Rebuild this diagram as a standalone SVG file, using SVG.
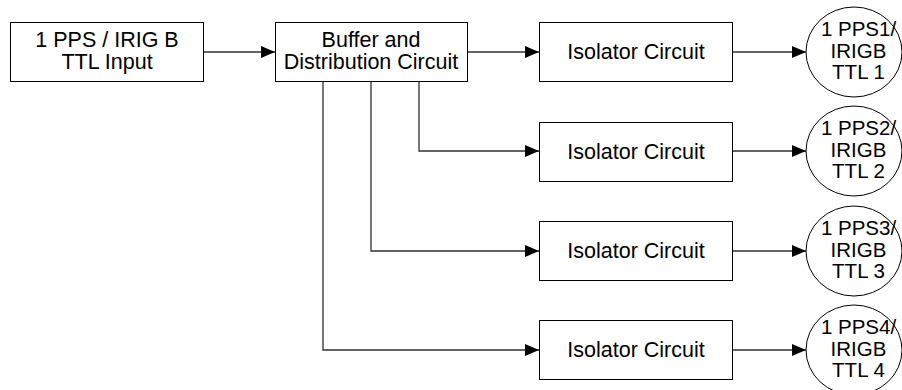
<svg xmlns="http://www.w3.org/2000/svg" width="902" height="390" viewBox="0 0 902 390">
  <style>
    .box { fill: #ffffff; stroke: #000000; stroke-width: 1; }
    .term { fill: #ffffff; stroke: #000000; stroke-width: 1; }
    .lbl { font-family: "Liberation Sans", Arial, sans-serif; font-size: 21.5px; fill: #000000; text-anchor: middle; }
    .term-lbl { font-family: "Liberation Sans", Arial, sans-serif; font-size: 20.5px; fill: #000000; text-anchor: middle; }
    .wire { fill: none; stroke: #303030; stroke-width: 1.3; }
  </style>
  <defs>
    <marker id="arrow" markerUnits="userSpaceOnUse" markerWidth="15" markerHeight="13" refX="14" refY="6" orient="auto">
      <path d="M0,0 L14,6 L0,12 Z" fill="#000000"/>
    </marker>
  </defs>
  <rect width="902" height="390" fill="#ffffff"/>

  <!-- connectors -->
  <g id="connectors">
    <line class="wire" x1="203" y1="52" x2="275" y2="52" marker-end="url(#arrow)"/>
    <line class="wire" x1="467" y1="52" x2="539" y2="52" marker-end="url(#arrow)"/>
    <polyline class="wire" points="419,81 419,151 539,151" marker-end="url(#arrow)"/>
    <polyline class="wire" points="371,81 371,251 539,251" marker-end="url(#arrow)"/>
    <polyline class="wire" points="323,81 323,350 539,350" marker-end="url(#arrow)"/>
    <line class="wire" x1="732" y1="52" x2="806" y2="52" marker-end="url(#arrow)"/>
    <line class="wire" x1="732" y1="151" x2="806" y2="151" marker-end="url(#arrow)"/>
    <line class="wire" x1="732" y1="251" x2="806" y2="251" marker-end="url(#arrow)"/>
    <line class="wire" x1="732" y1="350" x2="806" y2="350" marker-end="url(#arrow)"/>
  </g>

  <!-- input -->
  <g id="input">
    <rect class="box" x="10.5" y="22.5" width="193" height="59"/>
    <text class="lbl" x="107" y="47">1 PPS / IRIG B</text>
    <text class="lbl" x="107" y="69">TTL Input</text>
  </g>

  <!-- buffer / distribution -->
  <g id="buffer">
    <rect class="box" x="275.5" y="22.5" width="192" height="59"/>
    <text class="lbl" x="371" y="47">Buffer and</text>
    <text class="lbl" x="371" y="69">Distribution Circuit</text>
  </g>

  <!-- isolators -->
  <g id="isolator1">
    <rect class="box" x="539.5" y="22.5" width="193" height="59"/>
    <text class="lbl" x="636" y="59">Isolator Circuit</text>
  </g>
  <g id="isolator2">
    <rect class="box" x="539.5" y="122.5" width="193" height="59"/>
    <text class="lbl" x="636" y="159">Isolator Circuit</text>
  </g>
  <g id="isolator3">
    <rect class="box" x="539.5" y="221.5" width="193" height="59"/>
    <text class="lbl" x="636" y="258">Isolator Circuit</text>
  </g>
  <g id="isolator4">
    <rect class="box" x="539.5" y="320.5" width="193" height="59"/>
    <text class="lbl" x="636" y="357">Isolator Circuit</text>
  </g>

  <!-- outputs -->
  <g id="output1">
    <ellipse class="term" cx="854" cy="52" rx="48" ry="45"/>
    <text class="term-lbl" x="858.5" y="36">1 PPS1/</text>
    <text class="term-lbl" x="858.5" y="58">IRIGB</text>
    <text class="term-lbl" x="858.5" y="79">TTL 1</text>
  </g>
  <g id="output2">
    <ellipse class="term" cx="854" cy="151" rx="48" ry="45"/>
    <text class="term-lbl" x="858.5" y="135">1 PPS2/</text>
    <text class="term-lbl" x="858.5" y="157">IRIGB</text>
    <text class="term-lbl" x="858.5" y="178">TTL 2</text>
  </g>
  <g id="output3">
    <ellipse class="term" cx="854" cy="251" rx="48" ry="45"/>
    <text class="term-lbl" x="858.5" y="235">1 PPS3/</text>
    <text class="term-lbl" x="858.5" y="257">IRIGB</text>
    <text class="term-lbl" x="858.5" y="278">TTL 3</text>
  </g>
  <g id="output4">
    <ellipse class="term" cx="854" cy="350" rx="48" ry="45"/>
    <text class="term-lbl" x="858.5" y="334">1 PPS4/</text>
    <text class="term-lbl" x="858.5" y="356">IRIGB</text>
    <text class="term-lbl" x="858.5" y="377">TTL 4</text>
  </g>
</svg>
